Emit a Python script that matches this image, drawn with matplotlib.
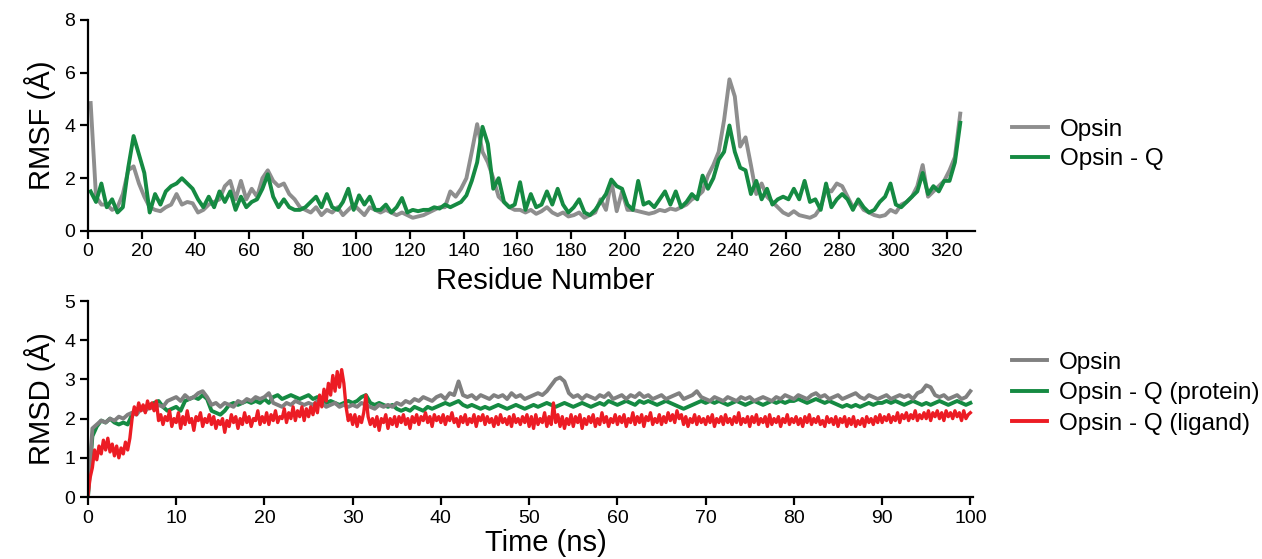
import matplotlib

matplotlib.use("Agg")
import matplotlib.pyplot as plt
import numpy as np

plt.rcParams["font.family"] = ["Liberation Sans", "DejaVu Sans"]

# RMSF per residue (every second residue, 1..325)
residues = list(range(1, 326, 2))

rmsf_opsin = [
    4.85, 1.3, 1.0, 1.0, 0.8, 0.9, 1.4, 2.3, 2.45, 1.8,
    1.3, 0.9, 0.8, 0.75, 0.9, 1.0, 1.4, 1.0, 1.1, 1.05,
    0.7, 0.8, 1.0, 1.1, 1.2, 1.7, 1.9, 1.2, 1.9, 1.2,
    1.6, 1.3, 2.0, 2.3, 1.9, 1.7, 1.8, 1.4, 1.2, 0.9,
    0.8, 0.7, 0.9, 0.6, 0.8, 0.7, 0.9, 0.6, 0.8, 1.0,
    0.8, 0.6, 0.9, 0.8, 0.7, 0.8, 0.7, 0.6, 0.7, 0.6,
    0.5, 0.55, 0.6, 0.7, 0.8, 0.9, 0.9, 1.5, 1.3, 1.6,
    2.0, 3.0, 4.05, 3.0, 2.6, 2.0, 1.3, 1.1, 0.9, 0.8,
    0.8, 0.7, 0.8, 0.65, 0.75, 0.9, 0.7, 0.6, 0.7, 0.55,
    0.6, 0.7, 0.5, 0.6, 0.7, 1.2, 0.8, 1.9, 0.75, 1.5,
    0.8, 0.8, 0.75, 0.7, 0.65, 0.7, 0.8, 0.75, 0.85, 0.8,
    0.9, 1.0, 1.2, 1.3, 1.5, 2.1, 2.5, 3.0, 4.2, 5.75,
    5.1, 3.2, 3.55, 2.5, 1.4, 1.8, 1.3, 1.1, 0.9, 0.7,
    0.6, 0.75, 0.6, 0.55, 0.5, 0.6, 0.9, 1.6, 1.5, 1.8,
    1.7, 1.3, 0.9, 1.1, 0.8, 0.7, 0.6, 0.55, 0.6, 0.8,
    0.7, 1.0, 1.1, 1.3, 1.7, 2.5, 1.3, 1.5, 1.7, 1.9,
    2.3, 2.8, 4.45,
]

rmsf_opsin_q = [
    1.5, 1.1, 1.8, 0.9, 1.2, 0.7, 0.9, 2.4, 3.6, 2.9,
    2.2, 0.7, 1.4, 1.0, 1.5, 1.7, 1.8, 2.0, 1.8, 1.6,
    1.2, 0.9, 1.3, 0.9, 1.5, 1.1, 1.5, 0.8, 1.3, 0.9,
    1.1, 1.2, 1.6, 2.15, 1.3, 0.9, 1.2, 0.9, 0.8, 0.8,
    0.9, 1.1, 1.3, 0.9, 1.4, 0.9, 0.8, 1.1, 1.6, 0.8,
    1.35, 1.0, 1.3, 0.8, 0.8, 1.0, 0.7, 0.9, 1.25, 0.7,
    0.8, 0.75, 0.8, 0.8, 0.9, 0.85, 1.0, 0.9, 1.0, 1.1,
    1.35, 1.9, 2.6, 3.95, 3.3, 1.6, 2.0, 1.1, 0.9, 1.0,
    1.85, 0.8, 1.4, 0.9, 1.0, 1.5, 1.0, 1.6, 1.0, 0.7,
    0.9, 1.2, 0.7, 0.6, 0.8, 1.1, 1.4, 1.95, 1.7, 1.6,
    1.0, 0.8, 1.9, 1.0, 1.1, 0.9, 1.2, 1.5, 1.0, 1.5,
    0.9, 1.1, 1.4, 1.2, 2.1, 1.6, 2.0, 2.7, 3.0, 4.0,
    3.0, 2.4, 2.3, 1.4, 1.9, 1.2, 1.6, 1.0, 1.2, 1.3,
    1.2, 1.6, 1.2, 1.9, 1.1, 1.2, 0.8, 1.8, 0.9, 1.2,
    1.4, 1.2, 0.8, 1.2, 0.9, 0.7, 0.8, 1.1, 1.3, 1.8,
    1.0, 0.9, 1.1, 1.3, 1.5, 2.2, 1.4, 1.7, 1.5, 1.9,
    1.9, 2.6, 4.1,
]

# RMSD over time: protein traces every 0.5 ns, ligand every 0.25 ns
time_ns = [i * 0.5 for i in range(201)]
time_ligand = [i * 0.25 for i in range(401)]

rmsd_opsin = [
    0.0, 1.75, 1.85, 1.95, 1.9, 2.0, 1.95, 2.05, 2.0, 2.1,
    2.15, 2.1, 2.25, 2.2, 2.3, 2.25, 2.35, 2.3, 2.45, 2.5,
    2.55, 2.45, 2.6, 2.5, 2.55, 2.65, 2.7, 2.55, 2.35, 2.4,
    2.3, 2.4, 2.35, 2.3, 2.45, 2.4, 2.5, 2.45, 2.55, 2.5,
    2.55, 2.65, 2.4, 2.35, 2.3, 2.4, 2.35, 2.45, 2.4, 2.35,
    2.4, 2.35, 2.45, 2.4, 2.3, 2.35, 2.4, 2.3, 2.35, 2.3,
    2.35, 2.3, 2.4, 2.35, 2.3, 2.25, 2.35, 2.3, 2.35, 2.3,
    2.4, 2.35, 2.45, 2.4, 2.5, 2.45, 2.55, 2.5, 2.45, 2.55,
    2.6, 2.5, 2.65, 2.6, 2.95, 2.6, 2.55, 2.6, 2.5, 2.6,
    2.55, 2.5, 2.6, 2.55, 2.6, 2.5, 2.65, 2.55, 2.6, 2.5,
    2.55, 2.6, 2.65, 2.6, 2.7, 2.85, 3.0, 3.05, 2.95, 2.65,
    2.55, 2.6, 2.5, 2.6, 2.55, 2.5, 2.6, 2.55, 2.65, 2.5,
    2.55, 2.6, 2.5, 2.6, 2.55, 2.65, 2.55, 2.6, 2.5, 2.55,
    2.6, 2.5, 2.55, 2.6, 2.65, 2.5, 2.55, 2.6, 2.7, 2.55,
    2.5, 2.45, 2.55, 2.5, 2.45, 2.55, 2.5, 2.45, 2.55, 2.5,
    2.55, 2.45, 2.5, 2.55, 2.5, 2.45, 2.55, 2.5, 2.6, 2.55,
    2.5, 2.6, 2.55, 2.5, 2.6, 2.65, 2.55, 2.6, 2.5, 2.55,
    2.6, 2.5, 2.55, 2.6, 2.65, 2.55, 2.5, 2.6, 2.55, 2.5,
    2.55, 2.6, 2.5, 2.55, 2.6, 2.55, 2.6, 2.5, 2.65, 2.7,
    2.85, 2.8, 2.6, 2.55, 2.6, 2.5, 2.55, 2.6, 2.5, 2.55,
    2.7,
]

rmsd_protein = [
    0.0, 1.55, 1.8, 1.95, 1.9, 2.0, 1.9, 1.85, 1.9, 1.85,
    2.1, 2.2, 2.25, 2.3, 2.35, 2.4, 2.45, 2.3, 2.2, 2.25,
    2.3, 2.2, 2.45, 2.5, 2.55, 2.5, 2.6, 2.5, 2.2, 2.15,
    2.1, 2.2, 2.35, 2.4, 2.35, 2.4, 2.45, 2.4, 2.45, 2.4,
    2.5, 2.4, 2.55, 2.6, 2.5, 2.55, 2.6, 2.55, 2.5, 2.55,
    2.6, 2.5, 2.55, 2.5, 2.4, 2.45, 2.4, 2.35, 2.4, 2.45,
    2.4, 2.45, 2.55, 2.6, 2.4, 2.35, 2.4, 2.35, 2.3, 2.35,
    2.25, 2.2, 2.25, 2.2, 2.3, 2.25, 2.2, 2.3, 2.25, 2.3,
    2.35, 2.4, 2.35, 2.4, 2.45, 2.35, 2.3, 2.35, 2.3, 2.25,
    2.3, 2.25, 2.3, 2.35, 2.3, 2.25, 2.3, 2.35, 2.3, 2.25,
    2.3, 2.35, 2.3, 2.35, 2.4, 2.35, 2.3, 2.35, 2.4, 2.35,
    2.3, 2.35, 2.4, 2.35, 2.3, 2.35, 2.4, 2.35, 2.45, 2.4,
    2.35, 2.4, 2.45, 2.4, 2.35, 2.45, 2.4, 2.45, 2.4, 2.35,
    2.4, 2.45, 2.4, 2.35, 2.3, 2.25, 2.3, 2.35, 2.4, 2.45,
    2.4, 2.45, 2.4, 2.45, 2.4, 2.35, 2.4, 2.45, 2.4, 2.35,
    2.4, 2.45, 2.4, 2.35, 2.4, 2.45, 2.4, 2.45, 2.4, 2.45,
    2.45, 2.5, 2.45, 2.4, 2.45, 2.5, 2.45, 2.4, 2.45, 2.4,
    2.35, 2.3, 2.35, 2.3, 2.35, 2.3, 2.35, 2.4, 2.35, 2.4,
    2.4, 2.45, 2.4, 2.45, 2.4, 2.35, 2.4, 2.45, 2.4, 2.35,
    2.4, 2.35, 2.4, 2.45, 2.4, 2.35, 2.4, 2.45, 2.4, 2.35,
    2.4,
]

rmsd_ligand = [
    0.05, 0.5, 0.75, 1.2, 0.95, 1.3, 1.1, 1.45, 1.2, 1.5, 1.15, 1.35, 1.05, 1.3, 1.0, 1.25, 1.1, 1.4, 1.2, 1.5,
    2.0, 2.3, 2.1, 2.4, 2.2, 2.35, 2.15, 2.45, 2.25, 2.4, 2.2, 2.45, 1.95, 2.1, 1.85, 2.05, 1.95, 2.2, 1.8, 2.0,
    1.9, 2.15, 1.75, 2.05, 1.85, 2.2, 1.9, 2.0, 1.7, 2.05, 1.95, 2.15, 1.8, 2.0, 1.9, 2.1, 1.85, 2.05, 1.75, 1.95,
    1.85, 2.0, 1.65, 1.95, 1.8, 2.1, 1.9, 2.05, 1.75, 2.0, 1.85, 2.15, 1.9, 2.05, 1.8, 2.0, 1.95, 2.2, 1.85, 2.05,
    1.9, 2.15, 1.85, 2.1, 1.95, 2.2, 1.9, 2.05, 2.0, 2.25, 1.9, 2.15, 2.0, 2.3, 1.95, 2.2, 2.05, 2.3, 1.95, 2.25,
    2.05, 2.3, 2.1, 2.4, 2.15, 2.6, 2.3, 2.75, 2.45, 2.9, 2.6, 3.1, 2.7, 3.2, 2.8, 3.25, 2.9, 2.3, 1.95, 2.1,
    1.85, 2.1, 1.8, 2.05, 1.9, 2.15, 2.6, 2.05, 1.85, 2.0, 1.8, 2.05, 1.7, 2.0, 1.9, 2.1, 1.75, 2.0, 1.85, 2.05,
    1.8, 2.05, 1.9, 2.1, 1.85, 2.0, 1.75, 2.05, 1.9, 2.1, 1.85, 2.05, 1.95, 2.15, 1.9, 2.05, 1.8, 2.1, 1.95, 2.05,
    1.9, 2.1, 1.85, 2.05, 1.95, 2.15, 1.9, 2.0, 1.8, 2.05, 1.9, 2.1, 1.85, 2.0, 1.9, 2.1, 1.8, 2.05, 1.95, 2.1,
    1.85, 2.05, 1.9, 2.0, 1.8, 2.05, 1.85, 2.1, 1.9, 2.0, 1.85, 2.05, 1.8, 2.1, 1.9, 2.0, 1.85, 2.05, 1.9, 2.1,
    1.8, 2.05, 1.75, 2.1, 1.85, 2.0, 1.9, 2.15, 1.8, 2.05, 1.85, 2.4, 1.9, 2.1, 1.8, 2.05, 1.75, 2.0, 1.85, 2.1,
    1.8, 2.05, 1.9, 2.1, 1.75, 2.0, 1.85, 2.05, 1.9, 2.1, 1.8, 2.0, 1.85, 2.15, 1.9, 2.05, 1.8, 2.0, 1.9, 2.1,
    1.85, 2.05, 1.9, 2.1, 1.8, 2.0, 1.9, 2.15, 1.85, 2.05, 1.9, 2.1, 1.8, 2.05, 1.95, 2.15, 1.85, 2.0, 1.9, 2.1,
    1.85, 2.05, 1.9, 2.15, 1.95, 2.1, 1.9, 2.2, 2.0, 2.1, 1.85, 2.05, 1.8, 2.0, 1.9, 2.1, 1.85, 2.05, 1.9, 2.0,
    1.85, 2.05, 1.9, 2.1, 1.8, 2.0, 1.9, 2.05, 1.85, 2.1, 1.9, 2.0, 1.85, 2.05, 1.9, 2.15, 1.85, 2.0, 1.9, 2.05,
    1.8, 2.05, 1.9, 2.1, 1.85, 2.0, 1.9, 2.05, 1.8, 2.1, 1.85, 2.0, 1.9, 2.05, 1.8, 2.0, 1.9, 2.1, 1.85, 2.0,
    1.9, 2.05, 1.85, 2.0, 1.8, 2.05, 1.9, 2.1, 1.85, 2.0, 1.9, 2.05, 1.85, 1.95, 1.8, 2.05, 1.9, 2.0, 1.85, 2.05,
    1.8, 2.0, 1.9, 2.05, 1.8, 2.0, 1.85, 2.05, 1.8, 1.95, 1.85, 2.0, 1.8, 2.05, 1.9, 2.0, 1.85, 2.05, 1.9, 2.1,
    1.9, 2.05, 1.95, 2.1, 1.9, 2.05, 1.95, 2.15, 1.9, 2.1, 2.0, 2.15, 1.95, 2.1, 2.0, 2.2, 1.95, 2.1, 2.0, 2.15,
    2.0, 2.2, 1.95, 2.15, 2.05, 2.2, 2.0, 2.15, 1.95, 2.2, 2.05, 2.15, 2.0, 2.2, 2.05, 2.15, 1.95, 2.2, 2.0, 2.1,
    2.15,
]

GRAY_TOP = "#8e8e8e"
GRAY = "#808080"
GREEN = "#158a42"
RED = "#ec1c24"


def style_axis(ax):
    for side in ("top", "right"):
        ax.spines[side].set_visible(False)
    for side in ("left", "bottom"):
        ax.spines[side].set_linewidth(1.6)
    ax.tick_params(direction="out", length=6, width=1.6, labelsize=14, pad=3)


fig = plt.figure(figsize=(12.62, 5.59), dpi=100)
ax1 = fig.add_axes([0.0697, 0.5868, 0.7029, 0.3775])
ax2 = fig.add_axes([0.0697, 0.1109, 0.7013, 0.3506])

ax1.plot(residues, rmsf_opsin, color=GRAY_TOP, lw=2.8, label="Opsin")
ax1.plot(residues, rmsf_opsin_q, color=GREEN, lw=2.8, label="Opsin - Q")
ax1.set_xlim(0, 330.5)
ax1.set_ylim(0, 8)
ax1.set_xticks(np.arange(0, 321, 20))
ax1.set_yticks(np.arange(0, 9, 2))
ax1.set_xlabel("Residue Number", fontsize=21, labelpad=5, x=0.516)
ax1.set_ylabel("RMSF (Å)", fontsize=21, labelpad=6)
style_axis(ax1)
ax1.legend(loc="center left", bbox_to_anchor=(1.042, 0.41), frameon=False,
           fontsize=17.5, handlelength=1.45, handletextpad=0.5,
           labelspacing=0.3, borderpad=0, borderaxespad=0)

ax2.plot(time_ns, rmsd_protein, color=GREEN, lw=2.8, label="Opsin - Q (protein)")
ax2.plot(time_ns, rmsd_opsin, color=GRAY, lw=2.8, label="Opsin")
ax2.plot(time_ligand, rmsd_ligand, color=RED, lw=2.4, label="Opsin - Q (ligand)")
ax2.set_xlim(0, 100.3)
ax2.set_ylim(0, 5)
ax2.set_xticks(np.arange(0, 101, 10))
ax2.set_yticks(np.arange(0, 6, 1))
ax2.set_xlabel("Time (ns)", fontsize=21, labelpad=2, x=0.5175)
ax2.set_ylabel("RMSD (Å)", fontsize=21, labelpad=6)
style_axis(ax2)
handles, labels = ax2.get_legend_handles_labels()
order = [1, 0, 2]
leg = ax2.legend([handles[i] for i in order], [labels[i] for i in order],
                 loc="center left", bbox_to_anchor=(1.044, 0.53), frameon=False,
                 fontsize=17.5, handlelength=1.45, handletextpad=0.5,
                 labelspacing=0.35, borderpad=0, borderaxespad=0)
for line in leg.get_lines():
    line.set_linewidth(2.8)

fig.savefig("out.png", dpi=100)
